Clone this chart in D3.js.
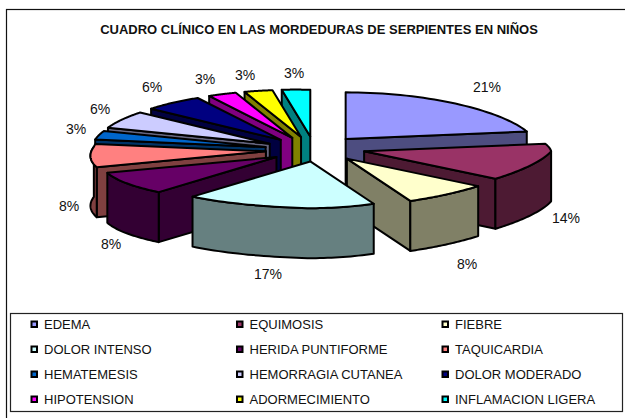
<!DOCTYPE html>
<html><head><meta charset="utf-8">
<script src="https://cdn.jsdelivr.net/npm/d3@7"></script>
<style>html,body{margin:0;background:#fff}svg{display:block}text{font-family:"Liberation Sans",Arial,sans-serif;fill:#111}</style>
</head><body><svg id="c" width="625" height="418"></svg>
<script>
const categories=["EDEMA","EQUIMOSIS","FIEBRE","DOLOR INTENSO","HERIDA PUNTIFORME","TAQUICARDIA","HEMATEMESIS","HEMORRAGIA CUTANEA","DOLOR MODERADO","HIPOTENSION","ADORMECIMIENTO","INFLAMACION LIGERA"];
const values=[21,14,8,17,8,8,3,6,6,3,3,3];
const colors=["#9999FF","#993366","#FFFFCC","#CCFFFF","#660066","#FF8080","#0066CC","#CCCCFF","#000080","#FF00FF","#FFFF00","#00FFFF"];
const labelPos=[[487,87],[566,218],[467,264],[268,274],[111,244],[69,206],[76,129],[100,109],[152,87],[205,79],[245,75],[294,73]];
const title="CUADRO CLÍNICO EN LAS MORDEDURAS DE SERPIENTES EN NIÑOS";

const svg=d3.select("#c");
const cx=315,cy=149,R=187,k=0.25,explode=50,depth=50;
svg.append("rect").attr("x",6.5).attr("y",9.5).attr("width",630).attr("height",420).attr("fill","#fff").attr("stroke","#111").attr("stroke-width",1.2);
svg.append("text").attr("x",319).attr("y",34).attr("text-anchor","middle").attr("font-size",13).attr("font-weight","bold").text(title);

const pie=d3.pie().sort(null).value(d=>d)(values);
const pt=(c,a)=>{
  const s=Math.sin(a),co=Math.cos(a);
  const A=co>0?(s>0?0:20):(s>0?42:35);
  const g=A*co*Math.abs(s);
  const rx=s<0?R*0.92:R;
  const yc=(s>0&&co>0)?Math.pow(co,1.3):co;
  const dy=s<0?-4.5*Math.abs(s):0;
  return [c[0]+rx*s+g,c[1]-R*k*yc+dy];
};
const slices=pie.map((p,i)=>{
  const mid=(p.startAngle+p.endAngle)/2;
  const c=[cx+explode*Math.sin(mid),cy-explode*k*Math.cos(mid)];
  return {i,a0:p.startAngle,a1:p.endAngle,mid,c};
}).sort((a,b)=>Math.cos(b.mid)-Math.cos(a.mid));
const line=d3.line();
const arcPts=(c,a0,a1)=>d3.range(0,41).map(j=>pt(c,a0+(a1-a0)*j/40));
const down=p=>[p[0],p[1]+depth];
const root=svg.append("g").attr("stroke","#000").attr("stroke-width",2).attr("stroke-linejoin","round");
slices.forEach(s=>{
  const col=d3.rgb(colors[s.i]);
  const side=d3.rgb(col.r/2,col.g/2,col.b/2).formatHex();
  const g=root.append("g");
  const wall=(a)=>{const p=pt(s.c,a);
    g.append("path").attr("fill",side).attr("d",line([s.c,p,down(p),down(s.c)])+"Z");};
  if(Math.sin(s.a0)<-1e-6)wall(s.a0);
  if(Math.sin(s.a1)>1e-6)wall(s.a1);
  const f0=Math.max(s.a0,Math.PI/2),f1=Math.min(s.a1,1.5*Math.PI);
  if(f1>f0){const ap=arcPts(s.c,f0,f1);
    g.append("path").attr("fill",side).attr("d",line(ap.concat(ap.slice().reverse().map(down)))+"Z");}
  g.append("path").attr("fill",colors[s.i]).attr("d",line([s.c].concat(arcPts(s.c,s.a0,s.a1)))+"Z");
});
values.forEach((v,i)=>svg.append("text").attr("x",labelPos[i][0]).attr("y",labelPos[i][1]+5).attr("text-anchor","middle").attr("font-size",14).text(v+"%"));

svg.append("rect").attr("x",10.5).attr("y",313.5).attr("width",612).attr("height",98).attr("fill","#fff").attr("stroke","#222").attr("stroke-width",1.2);
const xCol=d3.scalePoint().domain([0,1,2]).range([36,447]);
const yRow=d3.scalePoint().domain([0,1,2,3]).range([324,399]);
categories.forEach((n,i)=>{
  const x=xCol(i%3),y=yRow(Math.floor(i/3));
  svg.append("rect").attr("x",x-4.5).attr("y",y-2.5).attr("width",5.5).attr("height",5.5).attr("fill",colors[i]).attr("stroke","#000").attr("stroke-width",2);
  svg.append("text").attr("x",x+8).attr("y",y+4.5).attr("font-size",13).text(n);
});
</script></body></html>
